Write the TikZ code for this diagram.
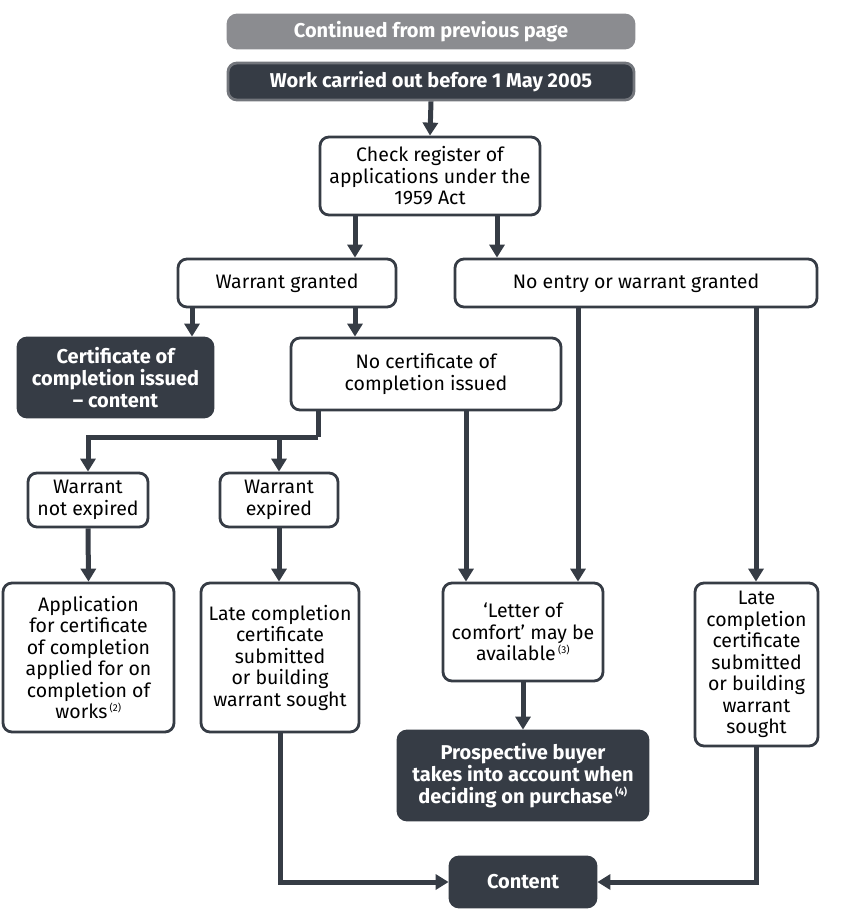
\documentclass[tikz,border=0pt]{standalone}
\usepackage{fontspec}
\setmainfont{Fira Sans}
\usetikzlibrary{arrows.meta,calc}
\definecolor{dk}{HTML}{363C45}
\definecolor{gr}{HTML}{8B8C90}
\definecolor{grb}{HTML}{73767C}
\tikzset{
  box/.style={draw=dk, line width=2.8pt, rounded corners=9pt, fill=white, align=center,
    inner sep=1pt, text=black, font=\fontsize{19.5}{21.5}\selectfont},
  dbox/.style={box, fill=dk, text=white, font=\fontsize{20}{22}\selectfont\bfseries},
  arr/.style={draw=dk, line width=5pt, -{Triangle[length=13pt,width=15pt]}},
  ln/.style={draw=dk, line width=5pt},
}
\newcommand{\fn}[1]{\textsuperscript{\,\fontsize{10}{10}\selectfont(#1)}}
\begin{document}
\begin{tikzpicture}[x=1pt,y=-1pt]
\useasboundingbox (0,0) rectangle (846,910);
% nodes
\node[box, draw=gr, fill=gr, text=white, font=\fontsize{20}{22}\selectfont\bfseries, minimum width=406pt, minimum height=33pt] (cont) at (431,31.5) {Continued from previous page};
\node[dbox, draw=grb, minimum width=406pt, minimum height=37pt] (work) at (431,81.5) {Work carried out before 1 May 2005};
\node[box, minimum width=220pt, minimum height=78pt] (check) at (430,176) {Check register of\\applications under the\\1959 Act};
\node[box, minimum width=218pt, minimum height=48pt] (wg) at (287,283) {Warrant granted};
\node[box, minimum width=362pt, minimum height=48pt] (ne) at (636,283) {No entry or warrant granted};
\node[dbox, minimum width=195pt, minimum height=79pt] (cert) at (115.5,377.5) {Certificate of\\completion issued\\– content};
\node[box, minimum width=270pt, minimum height=72pt] (nc) at (426,374) {No certificate of\\completion issued};
\node[box, minimum width=120pt, minimum height=54pt] (wne) at (88,500) {Warrant\\not expired};
\node[box, minimum width=118pt, minimum height=54pt] (we) at (279,500) {Warrant\\expired};
\node[box, minimum width=171pt, minimum height=149pt] (app) at (88.5,657.5) {Application\\for certificate\\of completion\\applied for on\\completion of\\works\fn{2}};
\node[box, minimum width=158pt, minimum height=149pt] (late1) at (280,657.5) {Late completion\\certificate\\submitted\\or building\\warrant sought};
\node[box, minimum width=160pt, minimum height=98pt] (letter) at (523,632) {‘Letter of\\comfort’ may be\\available\fn{3}};
\node[box, minimum width=123pt, minimum height=163pt] (late2) at (756.5,664.5) {Late\\completion\\certificate\\submitted\\or building\\warrant\\sought};
\node[dbox, minimum width=250pt, minimum height=89pt] (pros) at (523,775.5) {Prospective buyer\\takes into account when\\deciding on purchase\fn{4}};
\node[dbox, minimum width=146pt, minimum height=50pt] (content) at (523,882) {Content};
% helper coordinates
\coordinate (a355) at (355,0);
\coordinate (a497) at (497,0);
\coordinate (a192) at (192,0);
\coordinate (a466) at (466,0);
\coordinate (a578) at (578,0);
\coordinate (a756) at (756,0);
\coordinate (j) at (318,437);
% connectors
\draw[arr] (work.south) -- (check.north);
\draw[arr] (check.south -| a355) -- (wg.north -| a355);
\draw[arr] (check.south -| a497) -- (ne.north -| a497);
\draw[arr] (wg.south -| a192) -- (cert.north -| a192);
\draw[arr] (wg.south -| a355) -- (nc.north -| a355);
\draw[ln] (nc.south -| j) -- (j);
\draw[arr] (j) -| (wne.north);
\draw[arr] (j -| we.north) -- (we.north);
\draw[arr] (nc.south -| a466) -- (letter.north -| a466);
\draw[arr] (ne.south -| a578) -- (letter.north -| a578);
\draw[arr] (ne.south -| a756) -- (late2.north -| a756);
\draw[arr] (wne.south) -- (app.north);
\draw[arr] (we.south) -- (late1.north -| we.south);
\draw[arr] (letter.south) -- (pros.north);
\draw[arr] (late1.south) |- (content.west);
\draw[arr] (late2.south -| a756) |- (content.east);
\end{tikzpicture}
\end{document}
